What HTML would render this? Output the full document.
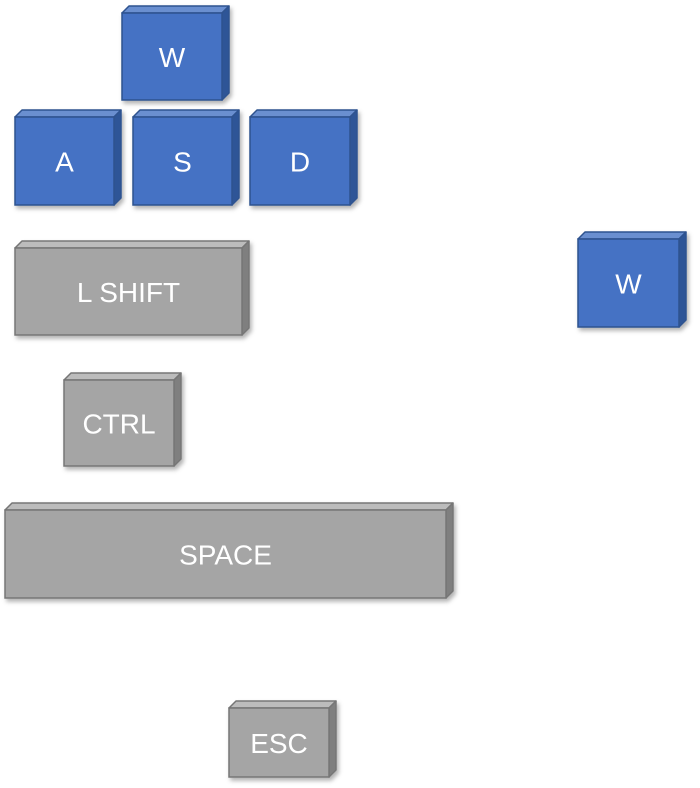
<!DOCTYPE html>
<html><head><meta charset="utf-8"><style>
html,body{margin:0;padding:0;background:#fff;width:700px;height:788px;overflow:hidden}
text{font-family:"Liberation Sans",sans-serif;fill:#fff;text-anchor:middle;dominant-baseline:central}
</style></head><body>
<svg width="700" height="788" viewBox="0 0 700 788" xmlns="http://www.w3.org/2000/svg">
<defs>
<filter id="sh" x="-10%" y="-10%" width="130%" height="130%"><feDropShadow dx="2" dy="3" stdDeviation="2" flood-color="#000" flood-opacity="0.3"/></filter>
</defs>
<g id="keys"></g>
</svg>
<script>
const keys=[
 ["W",122,13,100,87,"b",28],
 ["A",15,117,99,88,"b",28],
 ["S",133,117,99,88,"b",28],
 ["D",250,117,100,88,"b",28],
 ["L SHIFT",15,248,227,87,"g",28],
 ["W",578,239,101,88,"b",28],
 ["CTRL",64,380,110,86,"g",28],
 ["SPACE",5,510,441,88,"g",28],
 ["ESC",229,708,100,69,"g",28]
];
const C={b:{f:"#4472c4",t:"#6a8fd0",s:"#2f5597",k:"#2f528f"},g:{f:"#a5a5a5",t:"#bcbcbc",s:"#7f7f7f",k:"#767676"}};
let h="";const d=7;
for(const [l,x,y,w,hh,c,fs] of keys){const p=C[c];
h+=`<g filter="url(#sh)">
<polygon points="${x},${y} ${x+d},${y-d} ${x+w+d},${y-d} ${x+w},${y}" fill="${p.t}" stroke="${p.k}" stroke-width="1.5" stroke-linejoin="round"/>
<polygon points="${x+w},${y} ${x+w+d},${y-d} ${x+w+d},${y+hh-d} ${x+w},${y+hh}" fill="${p.s}" stroke="${p.k}" stroke-width="1.5" stroke-linejoin="round"/>
<rect x="${x}" y="${y}" width="${w}" height="${hh}" fill="${p.f}" stroke="${p.k}" stroke-width="1.5"/>
</g><text x="${x+w/2}" y="${y+hh/2+1}" font-size="${fs}">${l}</text>`;}
document.getElementById("keys").innerHTML=h;
</script>
</body></html>
